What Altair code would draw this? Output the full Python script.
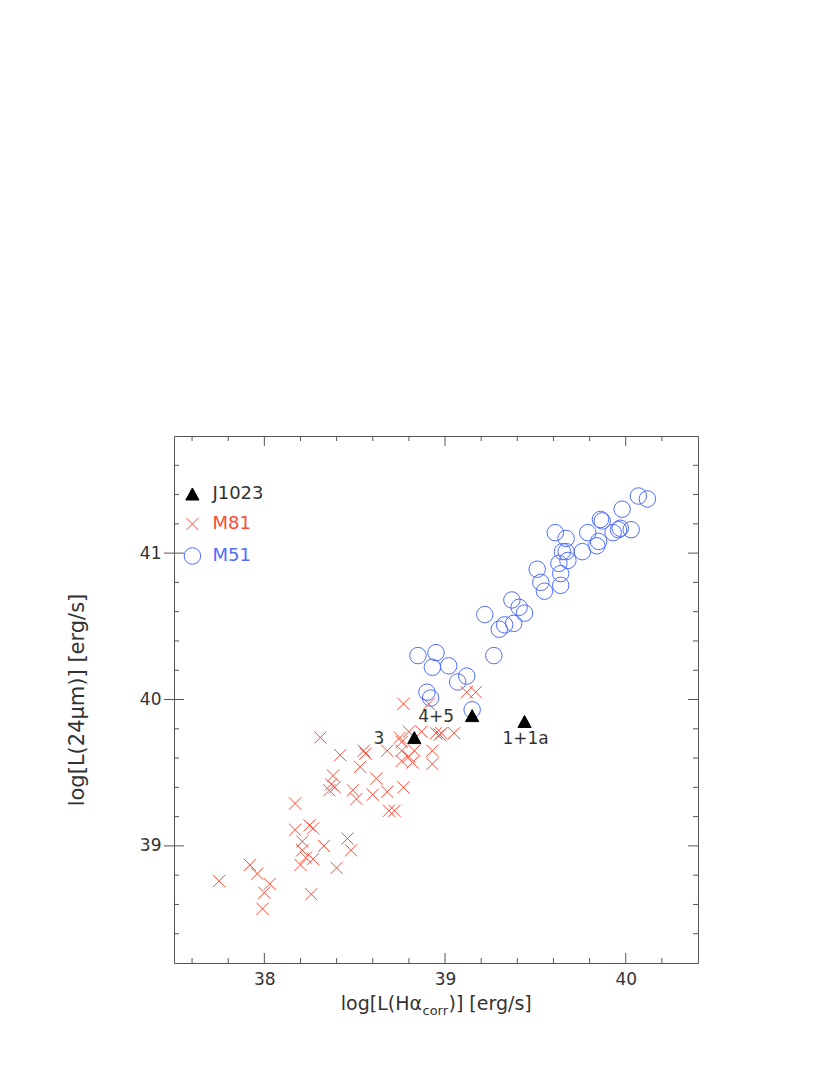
import altair as alt
import pandas as pd

# ---------------- data ----------------
gal_names = ["J1023", "M81", "M51"]

j_x = [38.83, 39.15, 39.44]
j_y = [39.74, 39.89, 39.85]
j_lab = ["3", "4+5", "1+1a"]

m81_x = [37.75, 37.92, 37.96, 37.99, 38.00, 38.03, 38.17, 38.17, 38.25, 38.27,
         38.21, 38.33, 38.21, 38.23, 38.27, 38.20, 38.26, 38.40, 38.46, 38.48,
         38.51, 38.69, 38.72, 38.31, 38.42, 38.55, 38.56, 38.53, 38.62, 38.68,
         38.38, 38.37, 38.39, 38.36, 38.49, 38.60, 38.68, 38.77, 38.75, 38.76,
         38.76, 38.80, 38.83, 38.76, 38.82, 38.93, 38.93, 38.77, 38.91, 38.87,
         38.95, 38.97, 38.98, 39.05, 39.12, 39.17, 38.80]
m81_y = [38.76, 38.87, 38.81, 38.57, 38.68, 38.74, 39.29, 39.11, 39.14, 39.12,
         39.03, 39.00, 38.97, 38.92, 38.91, 38.87, 38.67, 38.85, 39.05, 38.97,
         39.32, 39.24, 39.24, 39.74, 39.62, 39.65, 39.63, 39.54, 39.46, 39.65,
         39.48, 39.42, 39.40, 39.38, 39.38, 39.35, 39.37, 39.40, 39.74, 39.71,
         39.65, 39.61, 39.65, 39.58, 39.57, 39.65, 39.56, 39.97, 39.97, 39.78,
         39.77, 39.76, 39.77, 39.77, 40.05, 40.05, 39.78]

m51_x = [38.85, 38.95, 38.93, 39.02, 39.07, 39.12, 38.90, 38.92, 39.15, 39.27,
         39.22, 39.30, 39.33, 39.38, 39.37, 39.41, 39.44, 39.51, 39.53, 39.55,
         39.61, 39.67, 39.65, 39.67, 39.63, 39.68, 39.64, 39.64, 39.76, 39.79,
         39.84, 39.85, 39.86, 39.87, 39.93, 39.96, 39.97, 40.03, 39.98, 40.07,
         40.12]
m51_y = [40.30, 40.32, 40.22, 40.23, 40.12, 40.16, 40.05, 40.01, 39.93, 40.30,
         40.58, 40.48, 40.51, 40.52, 40.68, 40.63, 40.59, 40.89, 40.80, 40.74,
         41.14, 41.10, 41.01, 41.01, 40.93, 40.95, 40.86, 40.78, 41.01, 41.14,
         41.05, 41.08, 41.23, 41.22, 41.14, 41.16, 41.17, 41.16, 41.30, 41.39,
         41.37]

x_major = [38, 39, 40]
x_minor = [37.6, 37.8, 38.2, 38.4, 38.6, 38.8, 39.2, 39.4, 39.6, 39.8, 40.2]
y_major = [39, 40, 41]
y_minor = [38.4, 38.6, 38.8, 39.2, 39.4, 39.6, 39.8, 40.2, 40.4, 40.6, 40.8,
           41.2, 41.4, 41.6]

# ---------------- tables ----------------
df = pd.concat([
    pd.DataFrame({"x": m51_x, "y": m51_y, "galaxy": "M51"}),
    pd.DataFrame({"x": m81_x, "y": m81_y, "galaxy": "M81"}),
    pd.DataFrame({"x": j_x, "y": j_y, "galaxy": "J1023"}),
], ignore_index=True)
jdf = pd.DataFrame({"x": j_x, "y": j_y, "lab": j_lab})

W, H = 524, 527
FONT = "DejaVu Sans"
TXT = "#333333"
AX = "#555555"
RED = "#ff4a36"
BLUE = "#4f6cff"

xs = alt.Scale(domain=[37.5, 40.4], nice=False, zero=False)
ys = alt.Scale(domain=[38.2, 41.8], nice=False, zero=False)

tri = "M0,-0.73L0.8,0.73L-0.8,0.73Z"
xsym = "M-0.74,-0.74L0.74,0.74M-0.74,0.74L0.74,-0.74"

leg = alt.Legend(
    title=None, orient="none", legendX=9.4, legendY=49, padding=0,
    labelFont=FONT, labelFontSize=18, rowPadding=12, labelOffset=11,
    symbolStrokeWidth=1, symbolSize=272,
    labelColor={"expr": "datum.label == 'M81' ? '%s' : (datum.label == 'M51' ? '%s' : '%s')" % (RED, BLUE, TXT)},
)

xaxis = alt.Axis(values=x_major, title=None, labelFontSize=17, labelPadding=8,
                 labelFlush=False, labelFont=FONT, labelColor=TXT,
                 grid=False, domain=False, ticks=False, tickSize=0)
yaxis = alt.Axis(values=y_major, title="log[L(24μm)] [erg/s]", labelFontSize=17,
                 labelPadding=13, titleFontSize=21, titlePadding=52,
                 titleFontWeight="normal", labelFont=FONT, titleFont=FONT,
                 labelColor=TXT, titleColor=TXT,
                 grid=False, domain=False, ticks=False, tickSize=0)

X = lambda f="x:Q": alt.X(f, scale=xs, axis=xaxis)
Y = lambda f="y:Q": alt.Y(f, scale=ys, axis=yaxis)

pts = alt.Chart(df).mark_point(filled=False, strokeWidth=1, size=272, opacity=1).encode(
    x=X(), y=Y(),
    color=alt.Color("galaxy:N", scale=alt.Scale(domain=gal_names, range=["black", RED, BLUE]), legend=leg),
    fill=alt.Fill("galaxy:N", scale=alt.Scale(domain=gal_names, range=["black", "transparent", "transparent"]), legend=leg),
    shape=alt.Shape("galaxy:N", scale=alt.Scale(domain=gal_names, range=[tri, xsym, "circle"]), legend=leg),
)

def lab_layer(name, **kw):
    return alt.Chart(jdf[jdf.lab == name]).mark_text(
        font=FONT, fontSize=17, color=TXT, baseline="middle", **kw
    ).encode(x=X(), y=Y(), text="lab:N")

labs = [
    lab_layer("3", align="right", dx=-30, dy=1),
    lab_layer("4+5", align="right", dx=-18, dy=1),
    lab_layer("1+1a", align="center", dx=1, dy=18),
]

def xticks(vals, size, ypix):
    return alt.Chart(pd.DataFrame({"x": vals})).mark_tick(
        orient="vertical", size=size, thickness=1, color=AX, opacity=1
    ).encode(x=X(), y=alt.value(ypix))

def yticks(vals, size, xpix):
    return alt.Chart(pd.DataFrame({"y": vals})).mark_tick(
        orient="horizontal", size=size, thickness=1, color=AX, opacity=1
    ).encode(y=Y(), x=alt.value(xpix))

ticks = [
    xticks(x_major, 10, H - 5), xticks(x_major, 10, 5),
    xticks(x_minor, 5, H - 2.5), xticks(x_minor, 5, 2.5),
    yticks(y_major, 20, 0), yticks(y_major, 10, W - 5),
    yticks(y_minor, 5, 2.5), yticks(y_minor, 5, W - 2.5),
]

def title_part(text, size, xpix, ypix, align):
    return alt.Chart(pd.DataFrame({"t": [text]})).mark_text(
        font=FONT, fontSize=size, color=TXT, align=align, baseline="alphabetic"
    ).encode(text="t:N", x=alt.value(xpix), y=alt.value(ypix))

xtitle = [
    title_part("log[L(Hα", 19, 248, 574, "right"),
    title_part("corr", 13, 248.5, 579, "left"),
    title_part(")] [erg/s]", 19, 274.5, 574, "left"),
]

chart = alt.layer(*ticks, pts, *labs, *xtitle).properties(
    width=W, height=H,
    autosize=alt.AutoSizeParams(type="none"),
    padding={"left": 166, "top": 428, "right": 40, "bottom": 80},
).configure_view(stroke=AX, strokeWidth=1)

chart.save("out.html", embed_options={"renderer": "svg", "actions": False})
